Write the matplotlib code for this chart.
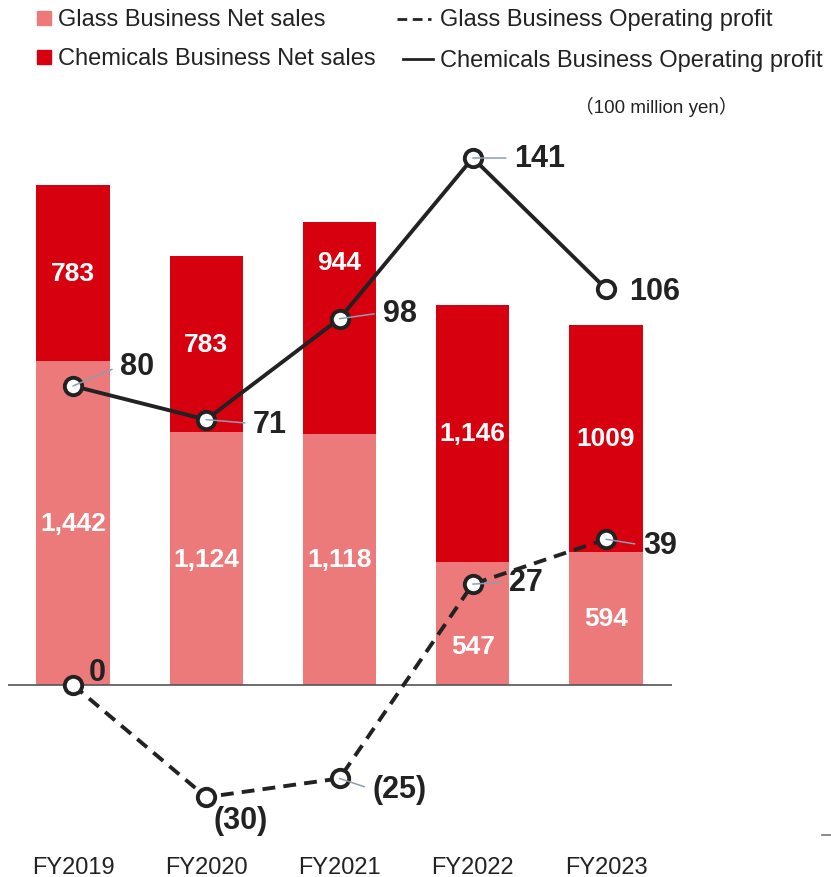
import matplotlib
matplotlib.use('Agg')
import matplotlib.pyplot as plt
from matplotlib.lines import Line2D
from matplotlib.patches import Rectangle
import numpy as np

# data (100 million yen)
years = ['FY2019', 'FY2020', 'FY2021', 'FY2022', 'FY2023']
glass_sales = [1442, 1124, 1118, 547, 594]
chem_sales = [783, 783, 944, 1146, 1009]
glass_sales_labels = ['1,442', '1,124', '1,118', '547', '594']
chem_sales_labels = ['783', '783', '944', '1,146', '1009']
glass_profit = [0, -30, -25, 27, 39]
chem_profit = [80, 71, 98, 141, 106]

GLASS = '#EC7A7A'
CHEM = '#D7000F'
DARK = '#222222'
LEADER = '#8E9DAD'

plt.rcParams['font.family'] = ['Liberation Sans', 'DejaVu Sans']

W, H = 831, 878
fig = plt.figure(figsize=(W / 100, H / 100), dpi=100)


def fx(px):
    return px / W


def fy(py):
    return 1 - py / H


# axes placed in pixels: x 8..672, y 131..831 (top-down), zero line at 686
ax_top, ax_bot, zero_y = 131, 831, 686
ax = fig.add_axes([fx(8), fy(ax_bot), (672 - 8) / W, (ax_bot - ax_top) / H])
ax2 = ax.twinx()

sales_scale = 500 / 2225   # px per unit
profit_scale = 527 / 141   # px per unit
ax.set_ylim(-(ax_bot - zero_y) / sales_scale, (zero_y - ax_top) / sales_scale)
ax2.set_ylim(-(ax_bot - zero_y) / profit_scale, (zero_y - ax_top) / profit_scale)

x = np.arange(len(years))
ax.set_xlim(-65 / 133.3, 4 + 66 / 133.3)

ax.bar(x, glass_sales, width=0.55, color=GLASS, zorder=2)
ax.bar(x, chem_sales, width=0.55, bottom=glass_sales, color=CHEM, zorder=2)
ax.axhline(0, color='#555555', lw=1.2, zorder=3)

# white labels inside the bars
glass_shift = [0, 0, 0, -102, 0]
chem_shift = [0, 0, 294, 0, 0]
for i in range(len(years)):
    ax.text(x[i], glass_sales[i] / 2 + glass_shift[i], glass_sales_labels[i],
            ha='center', va='center', color='white', fontsize=19, fontweight='bold', zorder=4)
    ax.text(x[i], glass_sales[i] + chem_sales[i] / 2 + chem_shift[i], chem_sales_labels[i],
            ha='center', va='center', color='white', fontsize=19, fontweight='bold', zorder=4)

ax2.plot(x, chem_profit, color=DARK, lw=2.8, zorder=5)
ax2.plot(x, glass_profit, color=DARK, lw=2.8, ls=(0, (3.3, 2.1)), zorder=5)
ax2.plot(x, chem_profit, 'o', ms=12.5, mfc='white', mec=DARK, mew=2.8, zorder=6)
ax2.plot(x, glass_profit, 'o', ms=12.5, mfc='white', mec=DARK, mew=2.8, zorder=6)


def fmt(v):
    return f'({abs(v)})' if v < 0 else str(v)


# label offsets in pixels (text centre relative to marker) and leader flags
chem_off = [(64, 20), (64, -4), (60, 6), (67, 0), (49, -2)]
chem_lead = [True, True, True, True, False]
glass_off = [(24, 13), (34, -23), (60, -11), (53, 2), (54, -6)]
glass_lead = [False, False, True, True, True]

for vals, offs, leads in [(chem_profit, chem_off, chem_lead), (glass_profit, glass_off, glass_lead)]:
    for i, v in enumerate(vals):
        arrow = None
        if leads[i]:
            arrow = dict(arrowstyle='-', color=LEADER, lw=1.1, shrinkA=4, shrinkB=0,
                         relpos=(0, 0.5))
        ax2.annotate(fmt(v), xy=(x[i], v), xytext=offs[i], textcoords='offset pixels',
                     ha='center', va='center', fontsize=22, fontweight='bold', color=DARK,
                     arrowprops=arrow, zorder=7)

for a in (ax, ax2):
    for s in a.spines.values():
        s.set_visible(False)
    a.set_yticks([])
ax2.tick_params(length=0)
ax.set_xticks(x)
ax.set_xticklabels(years, fontsize=17, color=DARK)
ax.tick_params(axis='x', length=0, pad=19)

# legend drawn by hand
fig.add_artist(Rectangle((fx(37), fy(26)), 14 / W, 14 / H, color=GLASS))
fig.add_artist(Rectangle((fx(37), fy(65)), 14 / W, 14 / H, color=CHEM))
fig.text(fx(58), fy(20), 'Glass Business Net sales', fontsize=17, color=DARK, va='center')
fig.text(fx(58), fy(59), 'Chemicals Business Net sales', fontsize=17, color=DARK, va='center')
fig.add_artist(Line2D([fx(397), fx(431)], [fy(20), fy(20)], color=DARK, lw=2,
                      ls=(0, (3.5, 2))))
fig.add_artist(Line2D([fx(403), fx(433)], [fy(60), fy(60)], color=DARK, lw=2))
fig.text(fx(440), fy(20), 'Glass Business Operating profit', fontsize=17, color=DARK, va='center')
fig.text(fx(440), fy(61), 'Chemicals Business Operating profit', fontsize=17, color=DARK, va='center')
fig.text(fx(656), fy(107), '（100 million yen）', fontsize=13.5, color=DARK,
         ha='center', va='center', family=['Liberation Sans', 'Noto Sans CJK JP'])

# small stray dash at the lower right
fig.add_artist(Line2D([fx(822), fx(831)], [fy(836), fy(836)], color='#777777', lw=1.2))

fig.savefig('out.png', dpi=100)
